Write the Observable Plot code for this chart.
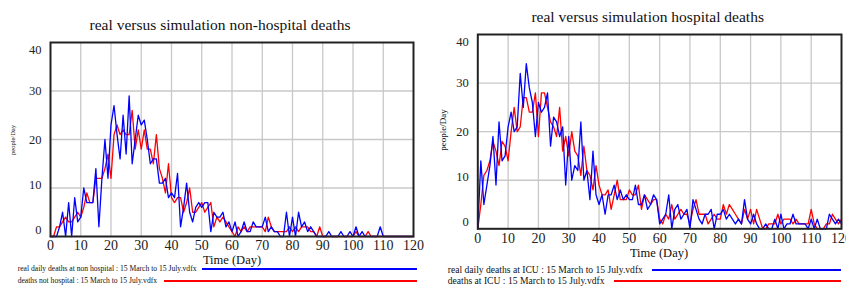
<!DOCTYPE html>
<html><head><meta charset="utf-8">
<script src="https://cdn.jsdelivr.net/npm/d3@7"></script>
<script src="https://cdn.jsdelivr.net/npm/@observablehq/plot@0.6"></script>
<style>
html,body{margin:0;padding:0;background:#fff;}
body{width:846px;height:287px;overflow:hidden;position:relative;font-family:"Liberation Serif","Times New Roman",serif;color:#111;}
.abs{position:absolute;white-space:nowrap;line-height:1;}
.c{transform:translate(-50%,-50%);}
.l{transform:translateY(-50%);}
.rot{transform:translate(-50%,-50%) rotate(-90deg);}
.ln{position:absolute;height:1.5px;}
.svgbox{position:absolute;top:0;}
</style></head><body>
<script>
const days = d3.range(0, 121);
const xTicks = d3.range(0, 121, 10);
const yTicks = [0, 10, 20, 30, 40];

const realNonHospital = [
  0,0,0,2,5,0,7,0,8,3,
  4,10,7,7,7,14,2,12,20,12,
  23,27,21,16,25,17,29,15,20,25,
  23,24,20,15,16,16,11,11,12,8,
  9,8,13,2,6,11,5,3,6,7,
  6,7,7,1,5,4,4,5,2,3,
  1,3,0,1,3,1,1,3,2,2,
  2,4,1,2,1,1,0,0,5,0,
  4,0,5,2,3,1,2,1,0,0,
  0,0,1,0,0,0,1,0,0,1,
  0,2,0,1,0,0,0,0,0,2,
  0,0,0,0,0,0,0,0,0,0,0];
const simNonHospital = [
  0,0,2,2,3,4,3,3,4,5,
  4,6,9,7,7,12,12,12,14,17,
  12,21,23,21,22,21,21,26,18,22,
  18,22,18,18,15,21,14,12,9,15,
  8,7,8,8,5,7,10,5,5,6,
  7,5,6,7,2,4,3,4,3,2,
  1,0,2,1,2,1,2,2,2,2,
  2,1,4,2,1,1,1,1,1,2,
  1,2,1,2,2,2,1,1,0,2,
  0,0,0,0,0,0,0,0,0,0,
  0,1,0,0,0,1,0,0,0,0,
  0,0,0,0,0,0,0,0,0,0,0];
const realICU = [
  0,14,5,9,13,19,9,22,14,15,
  21,24,20,21,32,25,34,29,26,19,
  26,24,25,28,17,23,22,19,21,9,
  19,10,13,12,22,10,12,6,16,7,
  5,7,3,7,7,9,6,8,6,7,
  6,6,9,5,5,7,4,5,7,6,
  1,2,3,7,0,4,5,2,3,4,
  0,6,4,2,1,3,3,4,0,3,
  3,4,2,3,2,1,2,1,6,2,
  1,3,1,0,0,1,0,0,2,0,
  3,0,1,1,3,1,1,1,1,0,
  2,0,2,0,0,0,3,2,1,2,1];
const simICU = [
  0,5,11,12,14,18,16,13,18,17,
  14,20,25,20,21,27,27,24,24,28,
  19,28,28,25,22,21,19,25,16,19,
  15,20,16,15,11,17,12,11,8,13,
  9,7,7,8,4,7,10,6,6,6,
  8,7,7,9,4,7,6,5,6,6,
  2,1,3,2,5,2,3,4,3,3,
  1,4,6,3,3,3,1,2,3,2,
  2,5,3,5,4,3,2,1,4,2,
  4,1,4,2,0,0,1,1,1,3,
  1,2,2,2,1,2,1,1,1,1,
  4,1,0,0,0,1,1,3,2,1,2];

const titles = ["real versus simulation non-hospital deaths", "real versus simulation hospital deaths"];
const xLabel = "Time (Day)";
const yLabel = "people/Day";
const legendLeft = ["real daily deaths at non hospital : 15 March to 15 July.vdfx", "deaths not hospital : 15 March to 15 July.vdfx"];
const legendRight = ["real daily deaths at ICU : 15 March to 15 July.vdfx", "deaths at ICU : 15 March to 15 July.vdfx"];

const BLUE = "#0000ff", RED = "#ff0000";

function rows(arr) { return days.map((d, i) => ({day: d, value: arr[i]})); }

function chart(real, sim, m) {
  const ya = (t, dy) => Plot.axisY(t, {tickSize: 0, tickPadding: 9, fontSize: 12.5, label: null, dy, fill: "#222"});
  return Plot.plot({
    width: m.width, height: m.height,
    marginTop: m.mt, marginBottom: m.mb, marginLeft: m.ml, marginRight: m.mr,
    style: {fontFamily: '"Liberation Serif","Times New Roman",serif', background: "transparent", overflow: "visible", maxWidth: "none", color: "#222"},
    x: {domain: [0, 120]},
    y: {domain: [0, 40]},
    marks: [
      Plot.gridX(xTicks.slice(1, -1), {stroke: "#c8c8c8", strokeOpacity: 1, strokeWidth: 1.3}),
      Plot.gridY(yTicks.slice(1, -1), {stroke: "#c8c8c8", strokeOpacity: 1, strokeWidth: 1.3}),
      Plot.line(rows(sim), {x: "day", y: "value", stroke: RED, strokeWidth: 1.3}),
      Plot.line(rows(real), {x: "day", y: "value", stroke: BLUE, strokeWidth: 1.3}),
      Plot.frame({stroke: "#222", strokeWidth: 2}),
      Plot.axisX(xTicks, {tickSize: 0, tickPadding: 4, fontSize: 14, label: null, fill: "#222"}),
      ya([20, 30], 0),
      ya([10], -3),
      ya([40], 7),
      ya([0], -7)
    ]
  });
}

function place(el, left) {
  const box = document.createElement("div");
  box.className = "svgbox";
  box.style.left = left + "px";
  box.appendChild(el);
  document.body.appendChild(box);
}
function txt(s, x, y, size, cls) {
  const d = document.createElement("div");
  d.className = "abs " + cls;
  d.style.left = x + "px"; d.style.top = y + "px"; d.style.fontSize = size + "px";
  d.textContent = s;
  document.body.appendChild(d);
}
function hline(x1, x2, y, color) {
  const d = document.createElement("div");
  d.className = "ln";
  d.style.left = x1 + "px"; d.style.width = (x2 - x1) + "px"; d.style.top = (y - 0.75) + "px";
  d.style.background = color;
  document.body.appendChild(d);
}

place(chart(realNonHospital, simNonHospital, {width: 423, height: 268, mt: 42, mb: 32, ml: 50, mr: 10}), 0);
place(chart(realICU, simICU, {width: 423, height: 268, mt: 34, mb: 39.7, ml: 54.3, mr: 5}), 423);

txt(titles[0], 220, 25, 15.5, "c");
txt(titles[1], 647.7, 16.7, 15.5, "c");
txt(xLabel, 232, 260, 12.5, "c");
txt(xLabel, 659, 253, 12.5, "c");
txt(yLabel, 13, 140, 6.5, "rot");
txt(yLabel, 442.5, 130, 9, "rot");

txt(legendLeft[0], 17.7, 269, 7.6, "l");
txt(legendLeft[1], 17.7, 281, 7.6, "l");
hline(202, 417, 269, BLUE);
hline(164, 417, 281, RED);

txt(legendRight[0], 447.7, 270, 9.6, "l");
txt(legendRight[1], 447.7, 281, 9.6, "l");
hline(652, 841, 270, BLUE);
hline(614, 841, 281, RED);
</script>
</body></html>
